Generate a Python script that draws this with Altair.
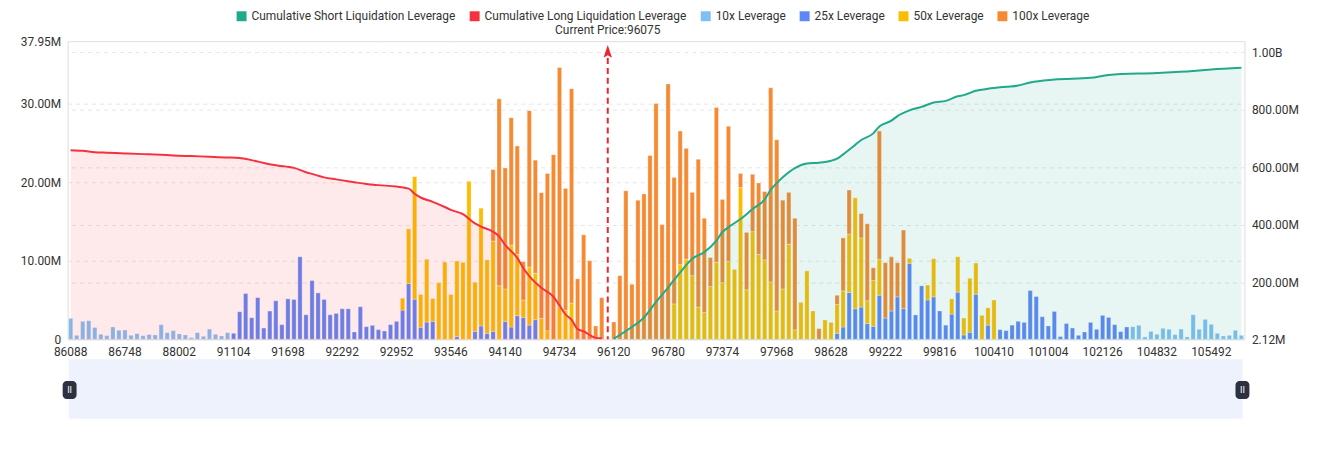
import json
import altair as alt
import pandas as pd

# ---------------- data ----------------
N_LEVELS = 195
CURRENT_IDX = 89
CURRENT_PRICE = "96075"

TICK_IDX = [0, 9, 18, 27, 36, 45, 54, 63, 72, 81, 90, 99, 108, 117, 126, 135,
            144, 153, 162, 171, 180, 189]
TICK_LABELS = ["86088", "86748", "88002", "91104", "91698", "92292", "92952",
               "93546", "94140", "94734", "96120", "96780", "97374", "97968",
               "98628", "99222", "99816", "100410", "101004", "102126",
               "104832", "105492"]

SERIES = ["Cumulative Short Liquidation Leverage", "Cumulative Long Liquidation Leverage",
          "10x Leverage", "25x Leverage", "50x Leverage", "100x Leverage"]
COLORS = ["#20a98a", "#f6313f", "#80bff2", "#5f86f7", "#fbbd00", "#f58a32"]

# values in millions, one entry per price level (index 0..194)
LEV10 = [
    2.66, 0.5, 2.28, 2.36, 1.5, 0.63, 0.46, 1.56, 1.14, 1.18, 0.5, 0.72, 0.46, 0.6, 0.55,
    1.86, 0.84, 1.1, 0.68, 0.55, 0.2, 0.84, 0.38, 1.3, 0.63, 0.42, 0.84, 0, 0, 0,
    0, 0, 0, 0, 0, 0, 0, 0, 0, 0, 0, 0, 0, 0, 0,
    0, 0, 0, 0, 0, 0, 0, 0, 0, 0, 0, 0, 0, 0, 0,
    0, 0, 0, 0, 0, 0, 0, 0, 0, 0, 0, 0, 0, 0, 0,
    0, 0, 0, 0, 0, 0, 0, 0, 0, 0, 0, 0, 0, 0, 0,
    0, 0, 0, 0, 0, 0, 0, 0, 0, 0, 0, 0, 0, 0, 0,
    0, 0, 0, 0, 0, 0, 0, 0, 0, 0, 0, 0, 0, 0, 0,
    0, 0, 0, 0, 0, 0, 0, 0, 0, 0, 0, 0, 0, 0, 0,
    0, 0, 0, 0, 0, 0, 0, 0, 0, 0, 0, 0, 0, 0, 0,
    0, 0, 0, 0, 0, 0, 0, 0, 0, 0, 0, 0, 0, 0, 0,
    0, 0, 0, 0, 0, 0, 0, 0, 0, 0, 0, 1.6, 1.77, 0.3, 1.0,
    0.63, 1.39, 1.27, 0.59, 1.3, 0.3, 3.12, 1.27, 2.53, 1.9, 0.76, 0.42, 0.5, 1.14, 0.5,
]
LEV25 = [
    0, 0, 0, 0, 0, 0, 0, 0, 0, 0, 0, 0, 0, 0, 0,
    0, 0, 0, 0, 0, 0, 0, 0, 0, 0, 0, 0, 0.76, 3.5, 5.82,
    2.74, 5.3, 1.43, 3.59, 4.9, 1.86, 5.15, 5.06, 10.5, 3.12, 7.47, 5.9, 5.06, 3.12, 3.29,
    3.88, 3.88, 0.93, 4.14, 1.6, 1.77, 1.22, 1.05, 1.86, 2.28, 3.71, 7.09, 5.1, 1.52, 2.19,
    2.28, 0, 0, 0, 0.34, 0, 0, 1.0, 1.69, 0.76, 1.0, 0, 2.28, 1.56, 3.0,
    2.78, 1.8, 2.5, 0, 0, 0, 0, 0, 0, 0, 0, 0, 0, 0, 0,
    0, 0, 0, 0, 0, 0, 0, 0, 0, 0, 0, 0, 0, 0, 0,
    0, 0, 0, 0, 0, 0, 0, 0, 0, 0, 0, 0, 0, 0, 0,
    0, 0, 0, 0, 0, 0, 0, 0.76, 1.56, 5.95, 3.88, 4.1, 2.0, 1.65, 5.6,
    2.7, 3.6, 5.4, 3.9, 9.66, 3.1, 6.8, 5.0, 5.4, 3.6, 1.8, 3.2, 6.0, 0.55, 0.9,
    5.74, 0, 1.8, 0, 1.22, 1.1, 1.8, 2.28, 2.15, 6.2, 5.44, 2.87, 1.69, 3.54, 0.34,
    2.0, 1.43, 0.5, 0.93, 2.15, 1.27, 3.04, 2.78, 1.86, 0.97, 1.56, 0, 0, 0, 0,
    0, 0, 0, 0, 0, 0, 0, 0, 0, 0, 0, 0, 0, 0, 0,
]
LEV50 = [
    0, 0, 0, 0, 0, 0, 0, 0, 0, 0, 0, 0, 0, 0, 0,
    0, 0, 0, 0, 0, 0, 0, 0, 0, 0, 0, 0, 0, 0, 0,
    0, 0, 0, 0, 0, 0, 0, 0, 0, 0, 0, 0, 0, 0, 0,
    0, 0, 0, 0, 0, 0, 0, 0, 0, 0, 1.52, 6.96, 15.6, 4.18, 8.0,
    2.91, 7.2, 9.83, 5.7, 9.62, 9.79, 20.1, 6.26, 15.0, 9.34, 11.5, 6.8, 4.12, 10.44, 7.8,
    2.2, 7.4, 5.9, 2.66, 1.1, 0, 4.2, 3.7, 4.6, 0, 0, 0, 0, 0, 0,
    0, 0, 0, 0, 0, 0, 0, 0, 0, 0, 4.5, 9.5, 10.2, 8.1, 4.1,
    3.4, 6.7, 9.8, 7.2, 9.9, 8.9, 19.3, 6.3, 13.7, 10.8, 10.1, 7.3, 3.6, 6.4, 12.1,
    1.2, 4.7, 8.7, 3.6, 0, 2.45, 2.15, 3.67, 4.6, 7.45, 14.12, 8.8, 2.9, 5.85, 4.6,
    0, 0, 0, 0, 0.64, 0, 0, 1.9, 4.85, 0, 0, 1.95, 4.5, 2.15, 6.86,
    3.96, 3.04, 2.2, 5.0, 0, 0, 0, 0, 0, 0, 0, 0, 0, 0, 0,
    0, 0, 0, 0, 0, 0, 0, 0, 0, 0, 0, 0, 0, 0, 0,
    0, 0, 0, 0, 0, 0, 0, 0, 0, 0, 0, 0, 0, 0, 0,
]
LEV100 = [
    0, 0, 0, 0, 0, 0, 0, 0, 0, 0, 0, 0, 0, 0, 0,
    0, 0, 0, 0, 0, 0, 0, 0, 0, 0, 0, 0, 0, 0, 0,
    0, 0, 0, 0, 0, 0, 0, 0, 0, 0, 0, 0, 0, 0, 0,
    0, 0, 0, 0, 0, 0, 0, 0, 0, 0, 0, 0, 0, 0, 0,
    0, 0, 0, 0, 0, 0, 0, 0, 0, 0, 9.1, 23.8, 15.4, 16.2, 13.8,
    4.9, 19.9, 14.4, 16.0, 20.0, 23.5, 30.4, 15.5, 27.3, 7.7, 13.3, 10.0, 1.7, 5.3, 0,
    2.2, 8.1, 18.9, 7.0, 17.7, 18.5, 23.4, 30.0, 14.6, 32.5, 16.1, 17.0, 14.1, 10.6, 18.8,
    12.0, 3.7, 19.7, 10.6, 17.2, 0, 1.8, 7.3, 7.3, 9.1, 8.7, 24.7, 21.8, 11.3, 6.6,
    14.2, 0, 0, 0, 1.35, 0, 0, 1.17, 6.74, 5.6, 0, 3.1, 9.8, 1.6, 16.3,
    7.05, 6.9, 4.35, 10.0, 0, 0, 0, 0, 0, 0, 0, 0, 0, 0, 0,
    0, 0, 0, 0, 0, 0, 0, 0, 0, 0, 0, 0, 0, 0, 0,
    0, 0, 0, 0, 0, 0, 0, 0, 0, 0, 0, 0, 0, 0, 0,
    0, 0, 0, 0, 0, 0, 0, 0, 0, 0, 0, 0, 0, 0, 0,
]

# cumulative curves (millions), read at price-level indices
SHORT_IDX = [90, 92, 93, 95, 97, 99, 101, 103, 105, 107, 108, 109, 111, 113, 115, 116,
             117, 118, 120, 122, 124, 126, 127, 128, 130, 131, 133, 134, 136, 137, 139,
             141, 143, 145, 147, 148, 150, 152, 155, 157, 159, 163, 169, 172, 180, 186,
             189, 194]
SHORT_VAL = [4, 31, 45, 78, 132, 182, 235, 282, 305, 345, 375, 392, 420, 455, 488, 522,
             545, 565, 597, 613, 616, 623, 630, 645, 678, 695, 718, 742, 762, 778, 798,
             810, 825, 831, 847, 851, 866, 873, 880, 884, 895, 905, 911, 921, 928, 935,
             940, 946]
LONG_IDX = [0, 2, 4, 6, 9, 12, 15, 17, 20, 23, 26, 28, 30, 32, 34, 37, 39, 40, 42, 44,
            47, 49, 51, 54, 56, 57, 58, 60, 62, 63, 65, 67, 68, 70, 71, 72, 74, 75, 76,
            78, 80, 81, 82, 83, 84, 85, 86, 87, 88]
LONG_VAL = [659.6, 657.5, 652.5, 650.6, 648.2, 645.8, 643.5, 641.3, 639, 636.8, 634.4,
            632, 625, 615, 607, 598, 583, 577, 565, 558, 548, 542, 538, 533, 526, 508,
            495, 480, 462, 452, 437, 405, 394, 376, 360, 330, 285, 250, 222, 181, 150,
            120, 89, 70, 38, 30, 17, 7, 5.3]

LEFT_MAX = 37.95e6
RIGHT_MIN = 2.12e6
RIGHT_MAX = 1.0387e9

for arr in (LEV10, LEV25, LEV50, LEV100):
    assert len(arr) == N_LEVELS
assert len(SHORT_IDX) == len(SHORT_VAL) and len(LONG_IDX) == len(LONG_VAL)

# ---------------- tables ----------------
rows = []
for order, (name, arr) in enumerate(zip(SERIES[2:], [LEV10, LEV25, LEV50, LEV100])):
    for i, v in enumerate(arr):
        if v > 0:
            rows.append({"i": i, "series": name, "value": v * 1e6, "ord": order})
bar_df = pd.DataFrame(rows)
short_df = pd.DataFrame({"i": SHORT_IDX, "value": [v * 1e6 for v in SHORT_VAL]})
long_df = pd.DataFrame({"i": LONG_IDX, "value": [v * 1e6 for v in LONG_VAL]})
cur_df = pd.DataFrame({"i": [CURRENT_IDX], "label": ["Current Price:" + CURRENT_PRICE]})
one = pd.DataFrame({"k": [0]})

W, H = 1184, 300
FONT = "Roboto"
TXT = "#333333"
RED = COLORS[1]
GREEN = COLORS[0]

x_scale = alt.Scale(domain=list(range(N_LEVELS)), paddingInner=0.3, paddingOuter=0.15)
x_enc = alt.X(
    "i:O", scale=x_scale, title=None,
    axis=alt.Axis(values=TICK_IDX,
                  labelExpr=json.dumps(TICK_LABELS) + "[indexof(" + json.dumps(TICK_IDX) + ", datum.value)]",
                  ticks=False, domain=False, grid=False, labelAngle=0, labelPadding=7,
                  labelFontSize=12, labelColor=TXT, labelFont=FONT, labelOverlap=False),
)

bars = alt.Chart(bar_df).mark_bar(stroke="white", strokeWidth=0.6, strokeOpacity=0.55).encode(
    x=x_enc,
    y=alt.Y("value:Q", stack="zero", title=None,
            scale=alt.Scale(domain=[0, LEFT_MAX], nice=False, zero=True),
            axis=alt.Axis(orient="left", values=[0, 10e6, 20e6, 30e6, LEFT_MAX],
                          labelExpr="datum.value == 0 ? '0' : format(datum.value / 1e6, '.2f') + 'M'",
                          ticks=False, domain=False, grid=True, gridColor="#e6e6e6",
                          gridDash=[4, 4], labelPadding=7, labelFontSize=12,
                          labelColor=TXT, labelFont=FONT)),
    color=alt.Color("series:N", scale=alt.Scale(domain=SERIES, range=COLORS),
                    legend=alt.Legend(orient="none", legendX=169, legendY=-31,
                                      direction="horizontal", title=None,
                                      symbolType="square", symbolSize=100,
                                      symbolStrokeWidth=0, symbolOpacity=1,
                                      labelFontSize=12, labelColor=TXT, labelFont=FONT,
                                      labelLimit=0, labelOffset=4, columnPadding=12.5,
                                      padding=0)),
    order=alt.Order("ord:Q", sort="ascending"),
)

right_scale = alt.Scale(domain=[RIGHT_MIN, RIGHT_MAX], nice=False, zero=False)

long_area = alt.Chart(long_df).mark_area(color=RED, opacity=0.1, interpolate="monotone").encode(
    x=alt.X("i:O", scale=x_scale),
    y=alt.Y("value:Q", scale=right_scale, axis=None),
    y2=alt.value(H),
)
short_area = alt.Chart(short_df).mark_area(color=GREEN, opacity=0.1, interpolate="monotone").encode(
    x=alt.X("i:O", scale=x_scale),
    y=alt.Y("value:Q", scale=right_scale, axis=None),
    y2=alt.value(H),
)
long_line = alt.Chart(long_df).mark_line(color=RED, strokeWidth=2, interpolate="monotone").encode(
    x=alt.X("i:O", scale=x_scale),
    y=alt.Y("value:Q", scale=right_scale, axis=None),
)
short_line = alt.Chart(short_df).mark_line(color=GREEN, strokeWidth=2, interpolate="monotone").encode(
    x=alt.X("i:O", scale=x_scale),
    y=alt.Y("value:Q", scale=right_scale, title=None,
            axis=alt.Axis(orient="right", values=[RIGHT_MIN, 200e6, 400e6, 600e6, 800e6, 1e9],
                          labelExpr="datum.value >= 1e9 ? format(datum.value / 1e9, '.2f') + 'B' : format(datum.value / 1e6, '.2f') + 'M'",
                          ticks=False, domain=False, grid=True, gridColor="#e6e6e6",
                          gridDash=[4, 4], labelPadding=7, labelFontSize=12,
                          labelColor=TXT, labelFont=FONT)),
)

cur_rule = alt.Chart(cur_df).mark_rule(color="#f0232f", strokeWidth=2, strokeDash=[6, 4]).encode(
    x=alt.X("i:O", scale=x_scale), y=alt.value(17), y2=alt.value(H),
)
cur_arrow = alt.Chart(cur_df).mark_point(
    shape="M0,-1L0.6,0.8L0,0.45L-0.6,0.8Z", filled=True, size=200, color="#f0232f", opacity=1
).encode(x=alt.X("i:O", scale=x_scale), y=alt.value(11))
cur_text = alt.Chart(cur_df).mark_text(fontSize=12, color=TXT, font=FONT, baseline="middle").encode(
    x=alt.X("i:O", scale=x_scale), y=alt.value(-11), text="label:N",
)

slider_bg = alt.Chart(one).mark_rect(color="#eef2fc").encode(
    x=alt.value(1), x2=alt.value(W - 2), y=alt.value(320), y2=alt.value(380))
handle_l = alt.Chart(one).mark_rect(color="#2d3140", cornerRadius=4).encode(
    x=alt.value(-5), x2=alt.value(9), y=alt.value(342), y2=alt.value(360))
handle_r = alt.Chart(one).mark_rect(color="#2d3140", cornerRadius=4).encode(
    x=alt.value(W - 9), x2=alt.value(W + 5), y=alt.value(342), y2=alt.value(360))
grip_l = alt.Chart(one).mark_text(text="II", fontSize=9, color="white", font=FONT,
                                  baseline="middle").encode(x=alt.value(2), y=alt.value(351))
grip_r = alt.Chart(one).mark_text(text="II", fontSize=9, color="white", font=FONT,
                                  baseline="middle").encode(x=alt.value(W - 2), y=alt.value(351))

chart = alt.layer(
    bars, long_area, short_area, long_line, short_line,
    cur_rule, cur_arrow, cur_text,
    slider_bg, handle_l, handle_r, grip_l, grip_r,
).resolve_scale(y="independent").properties(
    width=W, height=H,
    padding={"left": 60, "top": 32, "right": 73, "bottom": 94},
    autosize=alt.AutoSizeParams(type="none"),
).configure_view(stroke=None).configure(font=FONT)

chart.save("out.html", embed_options={"renderer": "svg", "actions": False})
